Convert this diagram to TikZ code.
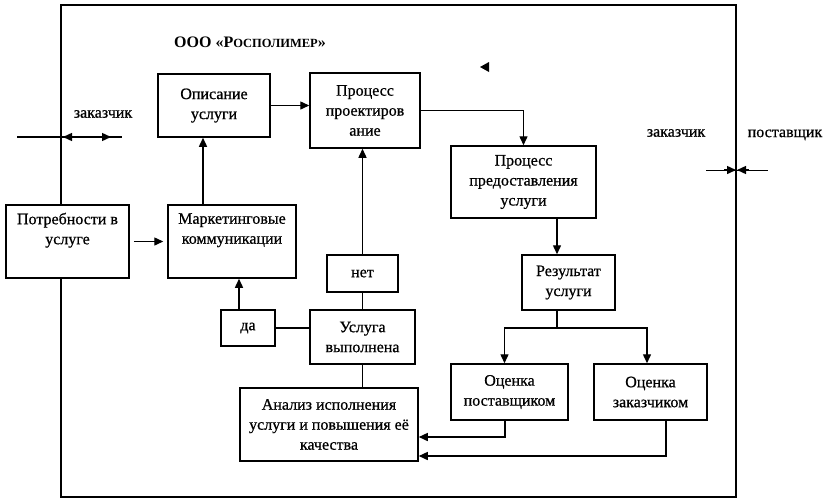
\documentclass[tikz,border=0pt]{standalone}
\usepackage{fontspec}
\setmainfont{Liberation Serif}
\newfontfamily\boxfont{Liberation Serif}[FakeBold=0.7]
\usetikzlibrary{arrows.meta}
\begin{document}
\begin{tikzpicture}[x=1pt,y=-1pt,
  box/.style={draw, line width=1.5pt, fill=white, align=center, inner sep=1pt,
    font=\boxfont\fontsize{16}{20}\selectfont},
  conn/.style={line width=1.4pt},
  arr/.style={conn, -{Triangle[length=9pt,width=8pt]}},
  lbl/.style={font=\boxfont\fontsize{16}{20}\selectfont, inner sep=0pt}]
\useasboundingbox (0,0) rectangle (833,499);
\fill[white] (0,0) rectangle (833,499);
% frame
\node[draw, line width=1.4pt, minimum width=675pt, minimum height=492pt, inner sep=0pt] (frame) at (398.5,251) {};
\node[font=\bfseries\fontsize{16}{20}\selectfont, inner sep=0pt] (title) at (250,42) {ООО «Р{\fontsize{12.5}{15}\selectfont ОСПОЛИМЕР}»};
% boxes
\node[box, minimum width=112pt, minimum height=63pt] (opis) at (214,105.5) {Описание\\услуги};
\node[box, minimum width=110pt, minimum height=75pt] (proekt) at (365,110.5) {Процесс\\проектиров\\ание};
\node[box, minimum width=123pt, minimum height=73pt] (potreb) at (67.5,241.5) {Потребности в\\услуге\\\strut};
\node[box, minimum width=128pt, minimum height=73pt] (market) at (232,241.5) {Маркетинговые\\коммуникации\\\strut};
\node[box, minimum width=71pt, minimum height=37pt] (net) at (362.5,273.5) {нет};
\node[box, minimum width=54pt, minimum height=36pt] (da) at (248,328) {да};
\node[box, minimum width=105pt, minimum height=54pt] (usl) at (362.5,337) {Услуга\\выполнена};
\node[box, minimum width=178pt, minimum height=73pt] (analiz) at (329,424.5) {Анализ исполнения\\услуги и повышения её\\качества};
\node[box, minimum width=145pt, minimum height=72pt] (predost) at (523.5,182) {Процесс\\предоставления\\услуги};
\node[box, minimum width=93pt, minimum height=55pt] (rezult) at (568.5,282.5) {Результат\\услуги};
\node[box, minimum width=117pt, minimum height=56pt] (ocpost) at (509.5,392) {Оценка\\поставщиком};
\node[box, minimum width=113pt, minimum height=56pt] (oczak) at (650.5,392) {Оценка\\заказчиком};
% labels
\node[lbl] (zakL) at (103,114) {заказчик};
\node[lbl] (zakR) at (676,133) {заказчик};
\node[lbl] (post) at (785,135) {поставщик};
% connectors
\draw[arr] (opis.east) -- (opis.east -| proekt.west);
\draw[arr, shorten <=4pt, shorten >=4pt] (potreb.east) -- (market.west);
\draw[arr] ([xshift=-29pt]market.north) -- ([xshift=-29pt]market.north |- opis.south);
\draw[arr] (net.north) -- (net.north |- proekt.south);
\draw[conn] (usl.north) -- (net.south);
\draw[conn] (da.east) -- (da.east -| usl.west);
\draw[arr] ([xshift=-9pt]da.north) -- ([xshift=-9pt]da.north |- market.south);
\draw[conn] (usl.south) -- (usl.south |- analiz.north);
\draw[arr] (proekt.east) -| (predost.north);
\draw[arr] ([xshift=33.5pt]predost.south) -- ([xshift=33.5pt]predost.south |- rezult.north);
\coordinate (split) at (557,328);
\draw[conn] (split |- rezult.south) -- (split);
\draw[arr] (split) -| ([xshift=-5pt]ocpost.north);
\draw[arr] (split) -| ([xshift=-3.5pt]oczak.north);
\draw[arr] ([xshift=-4.5pt]ocpost.south) |- ([yshift=-12.5pt]analiz.east);
\draw[arr] ([xshift=15.5pt]oczak.south) |- ([yshift=-31.5pt]analiz.east);
% boundary arrows left
\coordinate (lA) at (17,137);
\coordinate (lB) at (122,137);
\coordinate (lT1) at (63,137);
\coordinate (lS1) at (82,137);
\coordinate (lS2) at (100,137);
\coordinate (lT2) at (111,137);
\draw[conn] (lA) -- (lB);
\draw[arr] (lS1) -- (lT1);
\draw[arr] (lS2) -- (lT2);
% boundary arrows right
\coordinate (rA) at (706,170);
\coordinate (rB) at (768,170);
\coordinate (rT1) at (736,170);
\coordinate (rS1) at (724,170);
\coordinate (rT2) at (737,170);
\coordinate (rS2) at (749,170);
\draw[conn, line width=1pt] (rA) -- (rB);
\draw[arr] (rS1) -- (rT1);
\draw[arr] (rS2) -- (rT2);
% stray arrowhead
\fill (480,67) -- (489,62) -- (489,72) -- cycle;
\end{tikzpicture}
\end{document}
